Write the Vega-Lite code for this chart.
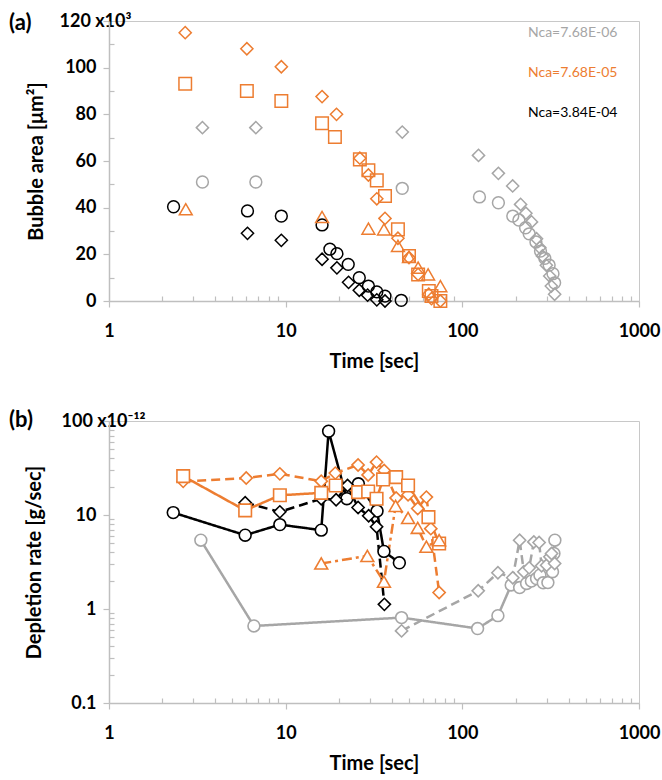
{
"$schema": "https://vega.github.io/schema/vega-lite/v6.json",
"padding": {"left": 8, "top": 11, "right": 0, "bottom": 0},
"background": "white",
"config": {
  "font": "Lato",
  "view": {"stroke": "#c8c8c8", "strokeWidth": 1},
  "axis": {"grid": false, "domainColor": "#bfbfbf", "domainWidth": 1.5, "tickColor": "#bfbfbf", "tickWidth": 1.2, "labelFont": "Lato", "labelFontWeight": "bold", "labelFontSize": 18, "labelColor": "#000", "titleFont": "Lato", "titleFontWeight": "bold", "titleFontSize": 20, "titleColor": "#000", "labelOverlap": false, "labelFlush": false},
  "concat": {"spacing": 36}
},
"datasets": {
"a": [
{"nca":"Nca=7.68E-06","case":"A","t":3.38,"area":51.0},{"nca":"Nca=7.68E-06","case":"A","t":6.78,"area":51.0},{"nca":"Nca=7.68E-06","case":"A","t":45.7,"area":48.3},{"nca":"Nca=7.68E-06","case":"A","t":125,"area":44.6},{"nca":"Nca=7.68E-06","case":"A","t":160,"area":42.1},{"nca":"Nca=7.68E-06","case":"A","t":193,"area":36.4},{"nca":"Nca=7.68E-06","case":"A","t":209,"area":34.7},{"nca":"Nca=7.68E-06","case":"A","t":228,"area":31.4},{"nca":"Nca=7.68E-06","case":"A","t":239,"area":28.8},{"nca":"Nca=7.68E-06","case":"A","t":261,"area":25.3},{"nca":"Nca=7.68E-06","case":"A","t":277,"area":21.4},{"nca":"Nca=7.68E-06","case":"A","t":293,"area":18.3},{"nca":"Nca=7.68E-06","case":"A","t":310,"area":15.4},{"nca":"Nca=7.68E-06","case":"A","t":326,"area":11.7},{"nca":"Nca=7.68E-06","case":"A","t":333,"area":7.8},
{"nca":"Nca=7.68E-06","case":"B","t":3.38,"area":74.3},{"nca":"Nca=7.68E-06","case":"B","t":6.78,"area":74.3},{"nca":"Nca=7.68E-06","case":"B","t":45.7,"area":72.4},{"nca":"Nca=7.68E-06","case":"B","t":123.5,"area":62.4},{"nca":"Nca=7.68E-06","case":"B","t":160,"area":54.7},{"nca":"Nca=7.68E-06","case":"B","t":192.7,"area":49.3},{"nca":"Nca=7.68E-06","case":"B","t":213.7,"area":41.4},{"nca":"Nca=7.68E-06","case":"B","t":228.9,"area":37.6},{"nca":"Nca=7.68E-06","case":"B","t":246.4,"area":33.9},{"nca":"Nca=7.68E-06","case":"B","t":263,"area":26.7},{"nca":"Nca=7.68E-06","case":"B","t":274.4,"area":22.9},{"nca":"Nca=7.68E-06","case":"B","t":284,"area":19.3},{"nca":"Nca=7.68E-06","case":"B","t":299,"area":15.3},{"nca":"Nca=7.68E-06","case":"B","t":312.4,"area":10.7},{"nca":"Nca=7.68E-06","case":"B","t":319,"area":6.4},{"nca":"Nca=7.68E-06","case":"B","t":333,"area":2.9},
{"nca":"Nca=3.84E-04","case":"A","t":2.32,"area":40.4},{"nca":"Nca=3.84E-04","case":"A","t":6.08,"area":38.6},{"nca":"Nca=3.84E-04","case":"A","t":9.45,"area":36.4},{"nca":"Nca=3.84E-04","case":"A","t":16.07,"area":32.6},{"nca":"Nca=3.84E-04","case":"A","t":17.8,"area":22.2},{"nca":"Nca=3.84E-04","case":"A","t":19.5,"area":20.3},{"nca":"Nca=3.84E-04","case":"A","t":22.6,"area":15.7},{"nca":"Nca=3.84E-04","case":"A","t":26.1,"area":10.0},{"nca":"Nca=3.84E-04","case":"A","t":29.4,"area":6.4},{"nca":"Nca=3.84E-04","case":"A","t":32.8,"area":3.9},{"nca":"Nca=3.84E-04","case":"A","t":36.5,"area":2.1},{"nca":"Nca=3.84E-04","case":"A","t":45.1,"area":0.3},
{"nca":"Nca=3.84E-04","case":"B","t":6.08,"area":29.0},{"nca":"Nca=3.84E-04","case":"B","t":9.45,"area":26.0},{"nca":"Nca=3.84E-04","case":"B","t":16.07,"area":17.9},{"nca":"Nca=3.84E-04","case":"B","t":19.5,"area":14.2},{"nca":"Nca=3.84E-04","case":"B","t":22.7,"area":8.0},{"nca":"Nca=3.84E-04","case":"B","t":26.1,"area":4.6},{"nca":"Nca=3.84E-04","case":"B","t":29.1,"area":2.5},{"nca":"Nca=3.84E-04","case":"B","t":32.8,"area":0.5},{"nca":"Nca=3.84E-04","case":"B","t":36.5,"area":0},
{"nca":"Nca=7.68E-05","case":"B","t":2.70,"area":115.0},{"nca":"Nca=7.68E-05","case":"B","t":6.03,"area":108.1},{"nca":"Nca=7.68E-05","case":"B","t":9.45,"area":100.4},{"nca":"Nca=7.68E-05","case":"B","t":16.07,"area":87.6},{"nca":"Nca=7.68E-05","case":"B","t":19.4,"area":80.0},{"nca":"Nca=7.68E-05","case":"B","t":26.3,"area":61.2},{"nca":"Nca=7.68E-05","case":"B","t":29.4,"area":54.0},{"nca":"Nca=7.68E-05","case":"B","t":32.8,"area":43.8},{"nca":"Nca=7.68E-05","case":"B","t":36.5,"area":35.4},{"nca":"Nca=7.68E-05","case":"B","t":43.2,"area":26.9},{"nca":"Nca=7.68E-05","case":"B","t":49.9,"area":18.6},{"nca":"Nca=7.68E-05","case":"B","t":56.2,"area":11.4},{"nca":"Nca=7.68E-05","case":"B","t":64.6,"area":2.9},{"nca":"Nca=7.68E-05","case":"B","t":66.9,"area":1.0},{"nca":"Nca=7.68E-05","case":"B","t":75.1,"area":0},
{"nca":"Nca=7.68E-05","case":"C","t":2.70,"area":93.1},{"nca":"Nca=7.68E-05","case":"C","t":6.03,"area":90.0},{"nca":"Nca=7.68E-05","case":"C","t":9.45,"area":85.7},{"nca":"Nca=7.68E-05","case":"C","t":16.07,"area":76.2},{"nca":"Nca=7.68E-05","case":"C","t":19.0,"area":70.3},{"nca":"Nca=7.68E-05","case":"C","t":26.3,"area":60.7},{"nca":"Nca=7.68E-05","case":"C","t":29.4,"area":56.0},{"nca":"Nca=7.68E-05","case":"C","t":32.8,"area":51.7},{"nca":"Nca=7.68E-05","case":"C","t":36.5,"area":45.0},{"nca":"Nca=7.68E-05","case":"C","t":43.2,"area":30.7},{"nca":"Nca=7.68E-05","case":"C","t":49.9,"area":19.3},{"nca":"Nca=7.68E-05","case":"C","t":56.2,"area":11.4},{"nca":"Nca=7.68E-05","case":"C","t":64.6,"area":4.3},{"nca":"Nca=7.68E-05","case":"C","t":66.9,"area":2.1},{"nca":"Nca=7.68E-05","case":"C","t":75.1,"area":0},
{"nca":"Nca=7.68E-05","case":"D","t":2.72,"area":39.3},{"nca":"Nca=7.68E-05","case":"D","t":16.07,"area":36.0},{"nca":"Nca=7.68E-05","case":"D","t":29.4,"area":31.0},{"nca":"Nca=7.68E-05","case":"D","t":36.0,"area":30.7},{"nca":"Nca=7.68E-05","case":"D","t":43.2,"area":23.6},{"nca":"Nca=7.68E-05","case":"D","t":49.9,"area":18.9},{"nca":"Nca=7.68E-05","case":"D","t":56.2,"area":14.3},{"nca":"Nca=7.68E-05","case":"D","t":64.0,"area":11.4},{"nca":"Nca=7.68E-05","case":"D","t":75.1,"area":6.4}
],
"b": [
{"nca":"Nca=7.68E-06","case":"A","t":3.31,"rate":5.39},{"nca":"Nca=7.68E-06","case":"A","t":6.61,"rate":0.66},{"nca":"Nca=7.68E-06","case":"A","t":45.3,"rate":0.81},{"nca":"Nca=7.68E-06","case":"A","t":122,"rate":0.62},{"nca":"Nca=7.68E-06","case":"A","t":159,"rate":0.85},{"nca":"Nca=7.68E-06","case":"A","t":189,"rate":1.80},{"nca":"Nca=7.68E-06","case":"A","t":211,"rate":1.69},{"nca":"Nca=7.68E-06","case":"A","t":231,"rate":1.87},{"nca":"Nca=7.68E-06","case":"A","t":246,"rate":1.98},{"nca":"Nca=7.68E-06","case":"A","t":263,"rate":2.11},{"nca":"Nca=7.68E-06","case":"A","t":275,"rate":2.29},{"nca":"Nca=7.68E-06","case":"A","t":287,"rate":1.90},{"nca":"Nca=7.68E-06","case":"A","t":305,"rate":1.91},{"nca":"Nca=7.68E-06","case":"A","t":315,"rate":3.05},{"nca":"Nca=7.68E-06","case":"A","t":324,"rate":2.49},{"nca":"Nca=7.68E-06","case":"A","t":330,"rate":3.9},{"nca":"Nca=7.68E-06","case":"A","t":334,"rate":5.39},
{"nca":"Nca=7.68E-06","case":"B","t":45.3,"rate":0.585},{"nca":"Nca=7.68E-06","case":"B","t":123,"rate":1.56},{"nca":"Nca=7.68E-06","case":"B","t":159,"rate":2.43},{"nca":"Nca=7.68E-06","case":"B","t":193,"rate":2.15},{"nca":"Nca=7.68E-06","case":"B","t":211,"rate":5.39},{"nca":"Nca=7.68E-06","case":"B","t":223,"rate":2.49},{"nca":"Nca=7.68E-06","case":"B","t":239,"rate":2.74},{"nca":"Nca=7.68E-06","case":"B","t":254,"rate":5.17},{"nca":"Nca=7.68E-06","case":"B","t":272,"rate":5.1},{"nca":"Nca=7.68E-06","case":"B","t":281,"rate":2.88},{"nca":"Nca=7.68E-06","case":"B","t":300,"rate":2.92},{"nca":"Nca=7.68E-06","case":"B","t":313,"rate":3.6},{"nca":"Nca=7.68E-06","case":"B","t":320,"rate":3.89},{"nca":"Nca=7.68E-06","case":"B","t":333,"rate":3.05},
{"nca":"Nca=3.84E-04","case":"A","t":2.31,"rate":10.6},{"nca":"Nca=3.84E-04","case":"A","t":5.9,"rate":6.1},{"nca":"Nca=3.84E-04","case":"A","t":9.27,"rate":7.9},{"nca":"Nca=3.84E-04","case":"A","t":15.9,"rate":6.9},{"nca":"Nca=3.84E-04","case":"A","t":17.5,"rate":78},{"nca":"Nca=3.84E-04","case":"A","t":22.2,"rate":14.9},{"nca":"Nca=3.84E-04","case":"A","t":25.8,"rate":21.5},{"nca":"Nca=3.84E-04","case":"A","t":32.9,"rate":11.0},{"nca":"Nca=3.84E-04","case":"A","t":36.0,"rate":4.1},{"nca":"Nca=3.84E-04","case":"A","t":44.0,"rate":3.1},
{"nca":"Nca=3.84E-04","case":"B","t":5.9,"rate":13.5},{"nca":"Nca=3.84E-04","case":"B","t":9.27,"rate":10.8},{"nca":"Nca=3.84E-04","case":"B","t":15.9,"rate":14.9},{"nca":"Nca=3.84E-04","case":"B","t":19.3,"rate":14.5},{"nca":"Nca=3.84E-04","case":"B","t":22.4,"rate":20.6},{"nca":"Nca=3.84E-04","case":"B","t":25.7,"rate":12.0},{"nca":"Nca=3.84E-04","case":"B","t":29.5,"rate":9.8},{"nca":"Nca=3.84E-04","case":"B","t":32.7,"rate":7.5},{"nca":"Nca=3.84E-04","case":"B","t":36.2,"rate":1.12},
{"nca":"Nca=7.68E-05","case":"B","t":2.63,"rate":22.8},{"nca":"Nca=7.68E-05","case":"B","t":5.98,"rate":24.7},{"nca":"Nca=7.68E-05","case":"B","t":9.27,"rate":27.4},{"nca":"Nca=7.68E-05","case":"B","t":15.9,"rate":22.9},{"nca":"Nca=7.68E-05","case":"B","t":19.1,"rate":27.9},{"nca":"Nca=7.68E-05","case":"B","t":25.7,"rate":34.1},{"nca":"Nca=7.68E-05","case":"B","t":29.3,"rate":26.7},{"nca":"Nca=7.68E-05","case":"B","t":32.7,"rate":36.5},{"nca":"Nca=7.68E-05","case":"B","t":36.1,"rate":29.8},{"nca":"Nca=7.68E-05","case":"B","t":42.2,"rate":15.2},{"nca":"Nca=7.68E-05","case":"B","t":49.3,"rate":16.4},{"nca":"Nca=7.68E-05","case":"B","t":55.9,"rate":11.7},{"nca":"Nca=7.68E-05","case":"B","t":62.6,"rate":15.5},{"nca":"Nca=7.68E-05","case":"B","t":66.3,"rate":7.16},{"nca":"Nca=7.68E-05","case":"B","t":73.9,"rate":1.5},
{"nca":"Nca=7.68E-05","case":"C","t":2.63,"rate":25.9},{"nca":"Nca=7.68E-05","case":"C","t":5.9,"rate":11.2},{"nca":"Nca=7.68E-05","case":"C","t":9.27,"rate":16.2},{"nca":"Nca=7.68E-05","case":"C","t":15.9,"rate":17.2},{"nca":"Nca=7.68E-05","case":"C","t":19.2,"rate":20.6},{"nca":"Nca=7.68E-05","case":"C","t":25.7,"rate":17.5},{"nca":"Nca=7.68E-05","case":"C","t":29.3,"rate":17.8},{"nca":"Nca=7.68E-05","case":"C","t":32.7,"rate":14.9},{"nca":"Nca=7.68E-05","case":"C","t":35.6,"rate":23.9},{"nca":"Nca=7.68E-05","case":"C","t":42.2,"rate":25.3},{"nca":"Nca=7.68E-05","case":"C","t":49.3,"rate":20.6},{"nca":"Nca=7.68E-05","case":"C","t":64.3,"rate":9.5},{"nca":"Nca=7.68E-05","case":"C","t":73.9,"rate":4.97},
{"nca":"Nca=7.68E-05","case":"D","t":15.9,"rate":3.05},{"nca":"Nca=7.68E-05","case":"D","t":29.0,"rate":3.67},{"nca":"Nca=7.68E-05","case":"D","t":36.0,"rate":1.95},{"nca":"Nca=7.68E-05","case":"D","t":41.9,"rate":12.5},{"nca":"Nca=7.68E-05","case":"D","t":49.3,"rate":9.3},{"nca":"Nca=7.68E-05","case":"D","t":55.9,"rate":7.3},{"nca":"Nca=7.68E-05","case":"D","t":62.6,"rate":4.6},{"nca":"Nca=7.68E-05","case":"D","t":73.9,"rate":5.4}
]
},
"resolve": {"legend": {"color": "independent"}},
"vconcat": [
{
  "width": 530, "height": 280,
  "title": {"text": "(a)", "anchor": "start", "frame": "group", "dx": -100, "offset": -33, "baseline": "middle", "align": "left", "font": "Lato", "fontSize": 22, "fontWeight": "bold", "color": "#000"},
  "data": {"name": "a"},
  "mark": {"type": "point", "filled": false, "strokeWidth": 1.5, "opacity": 1},
  "encoding": {
    "x": {"field": "t", "type": "quantitative", "scale": {"type": "log", "domain": [1, 1000], "nice": false},
      "axis": {"title": "Time [sec]", "values": [1,2,3,4,5,6,7,8,9,10,20,30,40,50,60,70,80,90,100,200,300,400,500,600,700,800,900,1000],
        "labelExpr": "indexof([1,10,100,1000], datum.value) >= 0 ? format(datum.value, 'd') : ''",
        "tickSize": {"condition": {"test": "indexof([1,10,100,1000], datum.value) >= 0", "value": 6}, "value": -5},
        "labelPadding": 15, "titlePadding": 11}},
    "y": {"field": "area", "type": "quantitative", "scale": {"domain": [0, 120], "nice": false, "zero": false},
      "axis": {"title": "Bubble area [μm²]", "values": [0,10,20,30,40,50,60,70,80,90,100,110,120],
        "labelExpr": "datum.value % 20 === 0 ? (datum.value === 120 ? '120 x10³' : datum.label) : ''",
        "tickSize": {"condition": {"test": "datum.value % 20 === 0", "value": 6}, "value": -5},
        "labelPadding": {"condition": {"test": "datum.value === 120", "value": 44}, "value": 7},
        "labelAlign": {"condition": {"test": "datum.value === 120", "value": "left"}, "value": "right"},
        "titlePadding": 13}},
    "color": {"field": "nca", "type": "nominal",
      "scale": {"domain": ["Nca=7.68E-06", "Nca=7.68E-05", "Nca=3.84E-04"], "range": ["#a6a6a6", "#ed7d31", "#000000"]},
      "legend": {"orient": "none", "legendX": 405, "legendY": 5, "title": null, "symbolSize": 0, "symbolOpacity": 0, "symbolStrokeWidth": 0, "labelFont": "Lato", "labelFontSize": 14, "labelFontWeight": "normal", "labelOffset": 0, "rowPadding": 26, "padding": 0,
        "labelColor": {"expr": "datum.value === 'Nca=7.68E-06' ? '#a6a6a6' : datum.value === 'Nca=7.68E-05' ? '#ed7d31' : '#000000'"}}},
    "shape": {"field": "case", "type": "nominal", "scale": {"domain": ["A","B","C","D"], "range": ["circle","diamond","square","triangle-up"]}, "legend": null},
    "size": {"field": "case", "type": "nominal", "scale": {"domain": ["A","B","C","D"], "range": [140, 165, 150, 130]}, "legend": null}
  }
},
{
  "width": 530, "height": 282,
  "title": {"text": "(b)", "anchor": "start", "frame": "group", "dx": -100, "offset": -30, "baseline": "middle", "align": "left", "font": "Lato", "fontSize": 22, "fontWeight": "bold", "color": "#000"},
  "data": {"name": "b"},
  "encoding": {
    "x": {"field": "t", "type": "quantitative", "scale": {"type": "log", "domain": [1, 1000], "nice": false},
      "axis": {"title": "Time [sec]", "values": [1,2,3,4,5,6,7,8,9,10,20,30,40,50,60,70,80,90,100,200,300,400,500,600,700,800,900,1000],
        "labelExpr": "indexof([1,10,100,1000], datum.value) >= 0 ? format(datum.value, 'd') : ''",
        "tickSize": {"condition": {"test": "indexof([1,10,100,1000], datum.value) >= 0", "value": 6}, "value": -5},
        "labelPadding": 15, "titlePadding": 11}},
    "y": {"field": "rate", "type": "quantitative", "scale": {"type": "log", "domain": [0.1, 100], "nice": false},
      "axis": {"title": "Depletion rate [g/sec]", "values": [0.1,0.2,0.3,0.4,0.5,0.6,0.7,0.8,0.9,1,2,3,4,5,6,7,8,9,10,20,30,40,50,60,70,80,90,100],
        "labelExpr": "datum.value === 100 ? '100 x10⁻¹²' : datum.value === 10 ? '10' : datum.value === 1 ? '1' : datum.value === 0.1 ? '0.1' : ''",
        "tickSize": {"condition": {"test": "indexof([0.1,1,10,100], datum.value) >= 0", "value": 6}, "value": -5},
        "labelPadding": {"condition": {"test": "datum.value === 100", "value": 42}, "value": 7},
        "labelAlign": {"condition": {"test": "datum.value === 100", "value": "left"}, "value": "right"},
        "titlePadding": 17}},
    "color": {"field": "nca", "type": "nominal",
      "scale": {"domain": ["Nca=7.68E-06", "Nca=7.68E-05", "Nca=3.84E-04"], "range": ["#a6a6a6", "#ed7d31", "#000000"]},
      "legend": null}
  },
  "layer": [
    {"mark": {"type": "line", "strokeWidth": 2.5},
     "encoding": {"strokeDash": {"field": "case", "type": "nominal", "scale": {"domain": ["A","B","C","D"], "range": [[1,0],[9,5],[1,0],[10,4,3,4]]}, "legend": null}}},
    {"mark": {"type": "point", "filled": false, "fill": "white", "strokeWidth": 1.6, "opacity": 1},
     "encoding": {"shape": {"field": "case", "type": "nominal", "scale": {"domain": ["A","B","C","D"], "range": ["circle","diamond","square","triangle-up"]}, "legend": null},
       "size": {"field": "case", "type": "nominal", "scale": {"domain": ["A","B","C","D"], "range": [140, 165, 150, 130]}, "legend": null}}}
  ]
}
]
}
